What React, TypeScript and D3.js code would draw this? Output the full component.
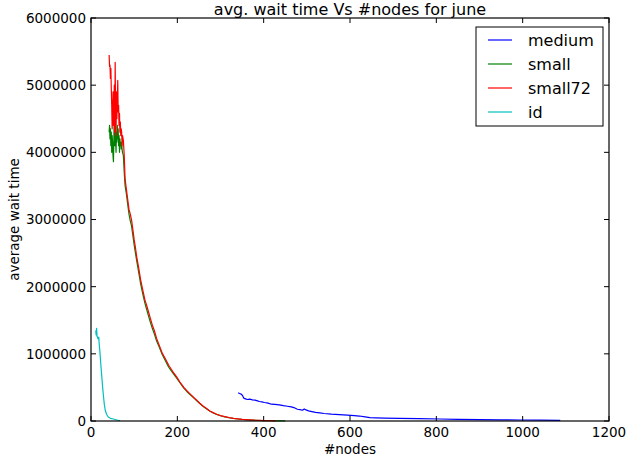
import React, { useEffect, useRef } from 'react';
import * as d3 from 'd3';

const seriesNames = ['medium', 'small', 'small72', 'id'];
const seriesColors = ['#0000ff', '#008000', '#ff0000', '#00bfbf'];

const xTicks = [0, 200, 400, 600, 800, 1000, 1200];
const yTicks = [0, 1000000, 2000000, 3000000, 4000000, 5000000, 6000000];

const mediumX = [341, 344, 348, 351, 354, 358, 362, 368, 374, 380, 386, 390, 396, 402, 410, 418, 426, 436, 446, 455, 464, 470, 478, 484, 490, 494, 498, 504, 512, 520, 530, 540, 557, 575, 594, 610, 622, 635, 646, 660, 680, 715, 760, 808, 850, 901, 950, 994, 1040, 1087];
const mediumY = [420000, 410000, 400000, 380000, 340000, 330000, 320000, 325000, 315000, 310000, 300000, 290000, 285000, 275000, 265000, 250000, 248000, 240000, 228000, 220000, 210000, 200000, 175000, 170000, 160000, 180000, 165000, 150000, 140000, 128000, 120000, 112000, 102000, 96000, 88000, 80000, 74000, 62000, 50000, 46000, 43000, 40000, 35000, 30000, 25000, 20000, 17000, 15000, 12000, 10000];

const smallX = [42, 43, 44, 45, 46, 47, 48, 49, 50, 51, 52, 53, 54, 55, 56, 57, 58, 59, 60, 61, 62, 63, 64, 65, 66, 67, 68, 69, 70, 71, 72, 73,
  75, 77, 79, 82, 85, 88, 91, 94, 97, 100, 103, 106, 110, 115, 120, 125, 129, 133, 137, 142, 147, 152, 158, 165, 172, 180, 189, 198, 206, 215, 222, 230, 238, 245, 252, 260, 268, 275, 283, 291, 300, 310, 320, 330, 340, 350, 365, 380, 400, 415, 430, 450];
const smallY = [4300000, 4400000, 4200000, 4350000, 4100000, 4300000, 4000000, 4250000, 4150000, 3950000, 3860000, 4200000, 4650000, 4100000, 4430000, 4200000, 4000000, 4300000, 4150000, 4400000, 4200000, 4350000, 4100000, 4250000, 4000000, 4200000, 4100000, 4150000, 4050000, 4150000, 4050000, 4000000,
  3950000, 3700000, 3500000, 3380000, 3230000, 3080000, 2980000, 2900000, 2760000, 2620000, 2500000, 2380000, 2230000, 2040000, 1890000, 1750000, 1660000, 1570000, 1480000, 1380000, 1290000, 1190000, 1100000, 990000, 900000, 800000, 720000, 640000, 570000, 490000, 440000, 390000, 345000, 300000, 260000, 215000, 180000, 148000, 120000, 98000, 78000, 62000, 48000, 38000, 30000, 23000, 16000, 11000, 6000, 4000, 2500, 1500];

const small72X = [42, 43, 44, 45, 46, 47, 48, 49, 50, 51, 52, 53, 54, 55, 56, 57, 58, 59, 60, 61, 62, 63, 64, 65, 66, 67, 68, 69, 70, 71, 72, 73,
  75, 77, 79, 82, 85, 88, 91, 94, 97, 100, 103, 106, 110, 115, 120, 125, 129, 133, 137, 142, 147, 152, 158, 165, 172, 180, 189, 198, 206, 215, 222, 230, 238, 245, 252, 260, 268, 275, 283, 291, 300, 310, 320, 330, 340, 350, 365, 380, 400, 415, 427];
const small72Y = [5450000, 5280000, 5300000, 5100000, 5250000, 4950000, 4700000, 4350000, 4600000, 4900000, 4400000, 4750000, 5000000, 4300000, 5340000, 4600000, 4250000, 4900000, 4500000, 4800000, 5070000, 4600000, 4700000, 4400000, 4580000, 4300000, 4450000, 4250000, 4350000, 4300000, 4100000, 4250000,
  4180000, 3950000, 3600000, 3450000, 3300000, 3150000, 3080000, 2990000, 2850000, 2700000, 2580000, 2440000, 2300000, 2100000, 1950000, 1800000, 1720000, 1630000, 1540000, 1430000, 1340000, 1230000, 1130000, 1010000, 930000, 830000, 740000, 660000, 580000, 500000, 450000, 400000, 350000, 310000, 265000, 220000, 185000, 150000, 125000, 100000, 80000, 65000, 50000, 40000, 32000, 25000, 18000, 12000, 7000, 4000, 3000];

const idX = [11, 12, 13, 14, 15, 16, 17, 18, 19, 21, 23, 25, 27, 29, 31, 33, 36, 40, 45, 52, 60, 67];
const idY = [1350000, 1280000, 1380000, 1260000, 1250000, 1230000, 1220000, 1250000, 1150000, 1000000, 820000, 660000, 500000, 360000, 240000, 160000, 100000, 60000, 40000, 30000, 15000, 5000];

const App = () => {
  const svgRef = useRef<SVGSVGElement>(null);

  useEffect(() => {
    const width = 626;
    const height = 461;
    const left = 91, right = 609, top = 18, bottom = 421;
    const font = 'DejaVu Sans, sans-serif';

    const svg = d3.select(svgRef.current);
    svg.selectAll('*').remove();
    svg.attr('width', width).attr('height', height);

    const x = d3.scaleLinear().domain([0, 1200]).range([left, right]);
    const y = d3.scaleLinear().domain([0, 6000000]).range([bottom, top]);

    const series = [
      { xs: mediumX, ys: mediumY },
      { xs: smallX, ys: smallY },
      { xs: small72X, ys: small72Y },
      { xs: idX, ys: idY },
    ];

    const line = d3.line<number[]>().x(d => x(d[0])).y(d => y(d[1]));

    // draw in matplotlib order: medium, small, small72, id
    series.forEach((s, i) => {
      const pts = s.xs.map((v, j) => [v, s.ys[j]]);
      svg.append('path')
        .datum(pts)
        .attr('d', line)
        .attr('fill', 'none')
        .attr('stroke', seriesColors[i])
        .attr('stroke-width', 1.2)
        .attr('stroke-linejoin', 'round');
    });

    // frame
    svg.append('rect')
      .attr('x', left).attr('y', top)
      .attr('width', right - left).attr('height', bottom - top)
      .attr('fill', 'none').attr('stroke', '#000').attr('stroke-width', 1.2);

    // ticks (inward, on all four sides)
    const tl = 5;
    xTicks.forEach(t => {
      svg.append('line').attr('x1', x(t)).attr('x2', x(t)).attr('y1', bottom).attr('y2', bottom - tl).attr('stroke', '#000');
      svg.append('line').attr('x1', x(t)).attr('x2', x(t)).attr('y1', top).attr('y2', top + tl).attr('stroke', '#000');
      svg.append('text')
        .attr('x', x(t)).attr('y', 437)
        .attr('text-anchor', 'middle')
        .style('font-family', font).style('font-size', '13.5px')
        .text(t);
    });
    yTicks.forEach(t => {
      svg.append('line').attr('x1', left).attr('x2', left + tl).attr('y1', y(t)).attr('y2', y(t)).attr('stroke', '#000');
      svg.append('line').attr('x1', right).attr('x2', right - tl).attr('y1', y(t)).attr('y2', y(t)).attr('stroke', '#000');
      svg.append('text')
        .attr('x', left - 5).attr('y', y(t))
        .attr('dy', '0.36em')
        .attr('text-anchor', 'end')
        .style('font-family', font).style('font-size', '13.5px')
        .text(t);
    });

    // title and axis labels
    svg.append('text')
      .attr('x', (left + right) / 2).attr('y', 15)
      .attr('text-anchor', 'middle')
      .style('font-family', font).style('font-size', '16px')
      .text('avg. wait time Vs #nodes for june');
    svg.append('text')
      .attr('x', (left + right) / 2).attr('y', 454)
      .attr('text-anchor', 'middle')
      .style('font-family', font).style('font-size', '13.5px')
      .text('#nodes');
    svg.append('text')
      .attr('transform', `translate(19, ${(top + bottom) / 2}) rotate(-90)`)
      .attr('text-anchor', 'middle')
      .style('font-family', font).style('font-size', '13.5px')
      .text('average wait time');

    // legend
    const lg = svg.append('g');
    lg.append('rect')
      .attr('x', 476).attr('y', 27).attr('width', 127).attr('height', 99)
      .attr('fill', '#fff').attr('stroke', '#000').attr('stroke-width', 1);
    seriesNames.forEach((name, i) => {
      const ly = 40 + i * 24;
      lg.append('line')
        .attr('x1', 488).attr('x2', 512).attr('y1', ly).attr('y2', ly)
        .attr('stroke', seriesColors[i]).attr('stroke-width', 1.2);
      lg.append('text')
        .attr('x', 528).attr('y', ly).attr('dy', '0.36em')
        .style('font-family', font).style('font-size', '16px')
        .text(name);
    });
  }, []);

  return <svg ref={svgRef} style={{ position: 'absolute', left: 0, top: 0 }}></svg>;
};

export default App;
